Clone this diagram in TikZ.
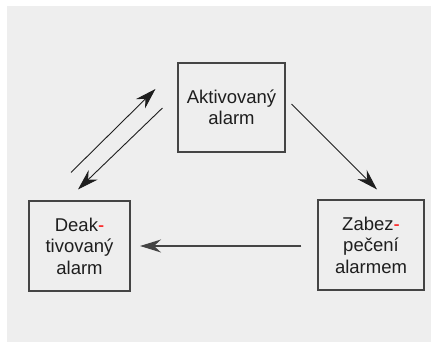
\documentclass[tikz,border=0pt]{standalone}
\usepackage{fontspec}
\setmainfont{Liberation Sans}
\usetikzlibrary{arrows.meta,calc}
\definecolor{bggray}{HTML}{EEEEEE}
\definecolor{ink}{HTML}{1E1E1E}
\definecolor{edge}{HTML}{444444}

\begin{document}
\begin{tikzpicture}[x=1pt,y=1pt,line width=1pt]
                \tikzset{
                  state/.style = {draw=edge, fill=bggray, rectangle, line width=1.1pt, align=center,
                                  text=ink, font=\fontsize{18.5}{21.5}\selectfont, inner sep=0pt},
                  arr/.style   = {draw=ink, line width=0.9pt, -{Stealth[length=21pt,width=13pt,inset=7pt]}}
                }
                \newcommand{\rdash}{\textcolor{red}{-}}

                % Frame
                \useasboundingbox (0,0) rectangle (431,342);
                \fill[bggray] (7,0) rectangle (431,336);

                % States
                \node[state, minimum width=107pt, minimum height=89pt] (akt) at (231.5,234.5) {Aktivovaný\\alarm};
                \node[state, minimum width=101pt, minimum height=90pt] (deak) at (79.5,96) {Deak\rdash\\tivovaný\\alarm};
                \node[state, minimum width=106pt, minimum height=90pt] (zab) at (371,97) {Zabez\rdash\\pečení\\alarmem};

                % Transitions
                \draw[arr] ($(deak.north)+(-8.5,28)$) -- ($(akt.west)+(-22,18.5)$);
                \draw[arr] ($(akt.west)+(-15,-0.5)$) -- ($(deak.north)+(-1.5,11)$);
                \draw[arr] ($(akt.east)+(6,3.5)$) -- ($(zab.north)+(6,10)$);
                \draw[arr, draw=edge, line width=1.3pt] ($(zab.west)+(-16,-1)$) -- ($(deak.east)+(9.5,0)$);
            \end{tikzpicture}
\end{document}
